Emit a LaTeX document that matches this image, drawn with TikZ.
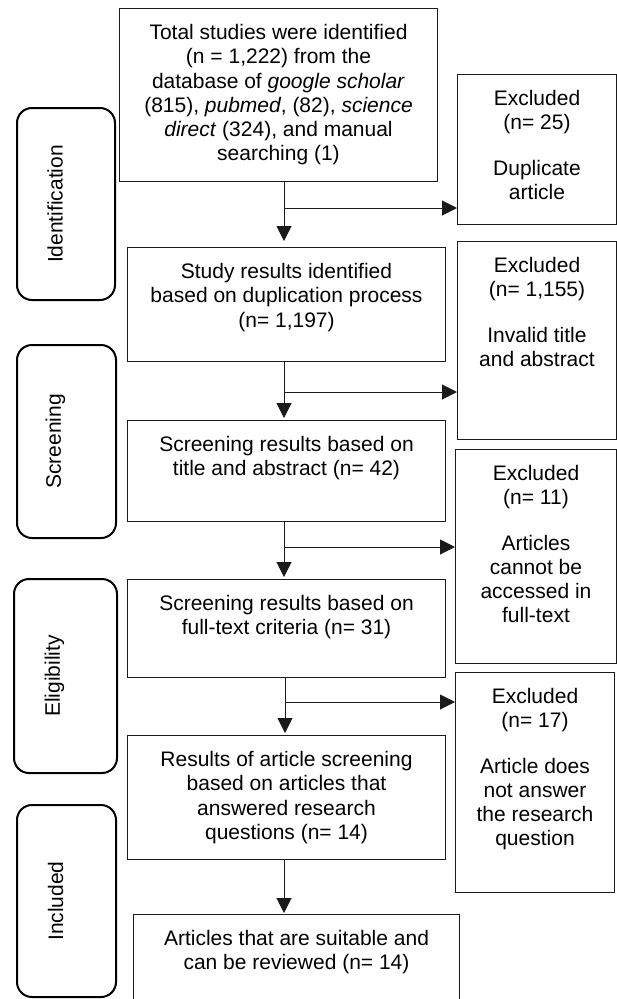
\documentclass[tikz,border=0pt]{standalone}
\usepackage{fontspec}
\setmainfont{Liberation Sans}
\usetikzlibrary{positioning, arrows.meta}
\usepackage{xcolor}
\definecolor{ink}{RGB}{26,26,26}

\begin{document}
\begin{tikzpicture}[x=1pt, y=-1pt,
    font=\fontsize{21}{24.3}\selectfont,
    stepbox/.style={rectangle, draw=ink, line width=1pt, fill=white,
                    anchor=north west, inner sep=0pt},
    phasebox/.style={rectangle, draw=black, rounded corners=15pt,
                     line width=2pt, anchor=north west, inner sep=0pt},
    boxtext/.style={align=center, inner sep=0pt, color=black},
    phasetext/.style={rotate=90, inner sep=0pt, color=black},
    arrowdown/.style={-{Triangle[length=15pt, width=15pt]}, color=ink,
                      line width=1pt, shorten >=2pt},
    arrowside/.style={-{Triangle[length=15pt, width=15pt]}, color=ink,
                      line width=1pt},
]

\useasboundingbox (0,0) rectangle (617,999);

% ─── Phase boxes (left column) ───────────────────────────────────
\node[phasebox, minimum width=98pt,  minimum height=192pt] (idf)  at (16,107) {};
\node[phasebox, minimum width=99pt,  minimum height=193pt] (scrn) at (16,344) {};
\node[phasebox, minimum width=103pt, minimum height=194pt] (elig) at (13,578) {};
\node[phasebox, minimum width=99pt,  minimum height=192pt] (incl) at (16,804) {};

\node[phasetext] (idfT)  at ([xshift=-11pt]idf.center)  {Identification};
\node[phasetext] (scrnT) at ([xshift=-11pt]scrn.center) {Screening};
\node[phasetext] (eligT) at ([xshift=-11pt]elig.center) {Eligibility};
\node[phasetext] (inclT) at ([xshift=-11pt]incl.center) {Included};

% ─── Main flow (middle column) ───────────────────────────────────
\node[stepbox, minimum width=318pt, minimum height=173pt] (tot)  at (119,8)   {};
\node[stepbox, minimum width=318pt, minimum height=114pt] (dup)  at (127,247) {};
\node[stepbox, minimum width=318pt, minimum height=101pt] (scr)  at (127,420) {};
\node[stepbox, minimum width=318pt, minimum height=98pt]  (full) at (127,579) {};
\node[stepbox, minimum width=318pt, minimum height=124pt] (res)  at (127,735) {};
\node[stepbox, minimum width=326pt, minimum height=110pt] (fin)  at (133,914) {};

\node[boxtext, below=16pt of tot.north] (totT) {%
  Total studies were identified\\
  (n = 1,222) from the\\
  database of \textit{google scholar}\\
  (815), \textit{pubmed}, (82), \textit{science}\\
  \textit{direct} (324), and manual\\
  searching (1)};
\node[boxtext, below=16pt of dup.north] (dupT) {%
  Study results identified\\
  based on duplication process\\
  (n= 1,197)};
\node[boxtext, below=16pt of scr.north] (scrT) {%
  Screening results based on\\
  title and abstract (n= 42)};
\node[boxtext, below=16pt of full.north] (fullT) {%
  Screening results based on\\
  full-text criteria (n= 31)};
\node[boxtext, below=16pt of res.north] (resT) {%
  Results of article screening\\
  based on articles that\\
  answered research\\
  questions (n= 14)};
\node[boxtext, below=16pt of fin.north] (finT) {%
  Articles that are suitable and\\
  can be reviewed (n= 14)};

% ─── Excluded boxes (right column) ───────────────────────────────
\node[stepbox, minimum width=159pt, minimum height=150pt] (ex1) at (457,74)  {};
\node[stepbox, minimum width=159pt, minimum height=198pt] (ex2) at (457,241) {};
\node[stepbox, minimum width=161pt, minimum height=214pt] (ex3) at (455,449) {};
\node[stepbox, minimum width=159pt, minimum height=220pt] (ex4) at (455,672) {};

\node[boxtext, below=16pt of ex1.north] (ex1T) {%
  Excluded\\ (n= 25)\\[21pt] Duplicate\\ article};
\node[boxtext, below=16pt of ex2.north] (ex2T) {%
  Excluded\\ (n= 1,155)\\[21pt] Invalid title\\ and abstract};
\node[boxtext, below=16pt of ex3.north] (ex3T) {%
  Excluded\\ (n= 11)\\[21pt] Articles\\ cannot be\\ accessed in\\ full-text};
\node[boxtext, below=16pt of ex4.north] (ex4T) {%
  Excluded\\ (n= 17)\\[21pt] Article does\\ not answer\\ the research\\ question};

% ─── Connectors ──────────────────────────────────────────────────
\coordinate (j1) at (284,208);
\coordinate (j2) at (284,392);
\coordinate (j3) at (284,547);
\coordinate (j4) at (285,702);

\draw[arrowdown, shorten >=6pt] (tot.south -| j1) -- (dup.north -| j1);
\draw[arrowside] (j1) -- (j1 -| ex1.west);

\draw[arrowdown] (dup.south -| j2) -- (scr.north -| j2);
\draw[arrowside] (j2) -- (j2 -| ex2.west);

\draw[arrowdown] (scr.south -| j3) -- (full.north -| j3);
\draw[arrowside] (j3) -- (j3 -| ex3.west);

\draw[arrowdown] (full.south -| j4) -- (res.north -| j4);
\draw[arrowside] (j4) -- (j4 -| ex4.west);

\draw[arrowdown, shorten >=1pt] (res.south -| j2) -- (fin.north -| j2);

\end{tikzpicture}
\end{document}
